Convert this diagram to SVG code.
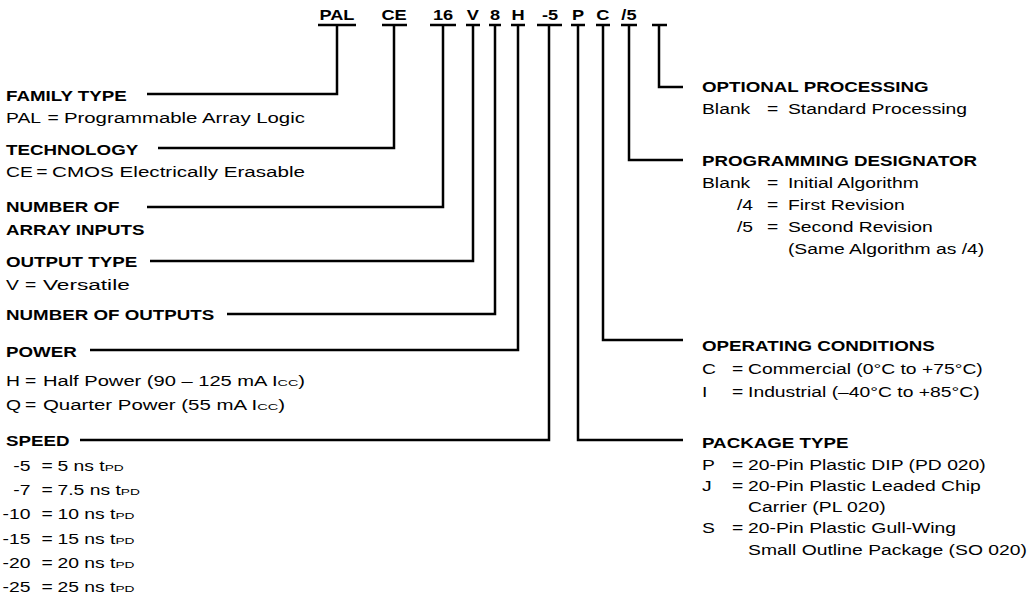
<svg xmlns="http://www.w3.org/2000/svg" width="1035" height="603" viewBox="0 0 1035 603">
<style>
text{font-family:"Liberation Sans",Arial,Helvetica,sans-serif;fill:#000}
.b{font-weight:bold;font-size:15.5px}
.r{font-size:13.8px}
.c{font-weight:bold;font-size:14px;text-anchor:middle}
.e{text-anchor:end}
.s{font-size:9.8px}
.ln{fill:none;stroke:#000;stroke-width:2.5}
</style>
<rect width="1035" height="603" fill="#fff"/>
<g id="code" class="ln">
<path d="M318 25H356M382 25H407M430 25H456M466 25H480M489 25H501M511 25H525M537 25H562M571 25H585M596 25H610M621 25H637M652 25H667"/>
</g>
<g id="code-text" transform="scale(1.3 1)">
<text class="c" x="259.2" y="20">PAL</text>
<text class="c" x="303.1" y="20">CE</text>
<text class="c" x="340.8" y="20">16</text>
<text class="c" x="363.8" y="20">V</text>
<text class="c" x="380.8" y="20">8</text>
<text class="c" x="398.5" y="20">H</text>
<text class="c" x="423.1" y="20">-5</text>
<text class="c" x="444.6" y="20">P</text>
<text class="c" x="463.8" y="20">C</text>
<text class="c" x="483.8" y="20">/5</text>
</g>
<g id="connectors" class="ln">
<path d="M337 25V94H147"/>
<path d="M394 25V148H158"/>
<path d="M443 25V207H147"/>
<path d="M473 25V261H150"/>
<path d="M495 25V314H227"/>
<path d="M518 25V350H90"/>
<path d="M549 25V440H80"/>
<path d="M578 25V440H683"/>
<path d="M603 25V340H683"/>
<path d="M629 25V160H683"/>
<path d="M659 25V87H683"/>
</g>
<g id="family" transform="translate(6 0)">
<text class="b" transform="scale(1.21 1)" y="101">FAMILY TYPE</text>
<g transform="scale(1.4 1)">
<text class="r" y="123">PAL</text><text class="r" x="29.6" y="123">=</text><text class="r" x="41.4" y="123" textLength="172.1" lengthAdjust="spacingAndGlyphs">Programmable Array Logic</text>
</g>
</g>
<g id="technology" transform="translate(6 0)">
<text class="b" transform="scale(1.21 1)" y="155">TECHNOLOGY</text>
<g transform="scale(1.4 1)">
<text class="r" y="177">CE</text><text class="r" x="21.6" y="177">=</text><text class="r" x="32.9" y="177" textLength="180.7" lengthAdjust="spacingAndGlyphs">CMOS Electrically Erasable</text>
</g>
</g>
<g id="inputs" transform="translate(6 0)">
<text class="b" transform="scale(1.21 1)" y="212">NUMBER OF</text>
<text class="b" transform="scale(1.21 1)" y="235">ARRAY INPUTS</text>
</g>
<g id="output-type" transform="translate(6 0)">
<text class="b" transform="scale(1.21 1)" y="267">OUTPUT TYPE</text>
<g transform="scale(1.4 1)">
<text class="r" y="290">V</text><text class="r" x="13.6" y="290">=</text><text class="r" x="26.4" y="290" textLength="62" lengthAdjust="spacingAndGlyphs">Versatile</text>
</g>
</g>
<g id="outputs" transform="translate(6 0)">
<text class="b" transform="scale(1.21 1)" y="320">NUMBER OF OUTPUTS</text>
</g>
<g id="power" transform="translate(6 0)">
<text class="b" transform="scale(1.21 1)" y="357">POWER</text>
<g transform="scale(1.4 1)">
<text class="r" y="386">H</text><text class="r" x="13.6" y="386">=</text><text class="r" x="26.4" y="386" textLength="187.1" lengthAdjust="spacingAndGlyphs">Half Power (90 – 125 mA I<tspan class="s">CC</tspan>)</text>
<text class="r" y="410">Q</text><text class="r" x="13.6" y="410">=</text><text class="r" x="26.4" y="410" textLength="172.9" lengthAdjust="spacingAndGlyphs">Quarter Power (55 mA I<tspan class="s">CC</tspan>)</text>
</g>
</g>
<g id="speed" transform="translate(6 0)">
<text class="b" transform="scale(1.21 1)" y="446">SPEED</text>
<g transform="scale(1.4 1)">
<text class="r e" x="17.5" y="471">-5</text><text class="r" x="25.4" y="471">=</text><text class="r" x="36.8" y="471">5 ns t<tspan class="s">PD</tspan></text>
<text class="r e" x="17.5" y="495">-7</text><text class="r" x="25.4" y="495">=</text><text class="r" x="36.8" y="495">7.5 ns t<tspan class="s">PD</tspan></text>
<text class="r e" x="17.5" y="519">-10</text><text class="r" x="25.4" y="519">=</text><text class="r" x="36.8" y="519">10 ns t<tspan class="s">PD</tspan></text>
<text class="r e" x="17.5" y="544">-15</text><text class="r" x="25.4" y="544">=</text><text class="r" x="36.8" y="544">15 ns t<tspan class="s">PD</tspan></text>
<text class="r e" x="17.5" y="568">-20</text><text class="r" x="25.4" y="568">=</text><text class="r" x="36.8" y="568">20 ns t<tspan class="s">PD</tspan></text>
<text class="r e" x="17.5" y="592">-25</text><text class="r" x="25.4" y="592">=</text><text class="r" x="36.8" y="592">25 ns t<tspan class="s">PD</tspan></text>
</g>
</g>
<g id="optional" transform="translate(702 0)">
<text class="b" transform="scale(1.21 1)" y="92">OPTIONAL PROCESSING</text>
<g transform="scale(1.4 1)">
<text class="r" y="114">Blank</text><text class="r" x="46.4" y="114">=</text><text class="r" x="61.4" y="114">Standard Processing</text>
</g>
</g>
<g id="programming" transform="translate(702 0)">
<text class="b" transform="scale(1.21 1)" y="166">PROGRAMMING DESIGNATOR</text>
<g transform="scale(1.4 1)">
<text class="r" y="188">Blank</text><text class="r" x="46.4" y="188">=</text><text class="r" x="61.4" y="188">Initial Algorithm</text>
<text class="r" x="25" y="210">/4</text><text class="r" x="46.4" y="210">=</text><text class="r" x="61.4" y="210">First Revision</text>
<text class="r" x="25" y="232">/5</text><text class="r" x="46.4" y="232">=</text><text class="r" x="61.4" y="232">Second Revision</text>
<text class="r" x="61.4" y="254">(Same Algorithm as /4)</text>
</g>
</g>
<g id="operating" transform="translate(702 0)">
<text class="b" transform="scale(1.21 1)" y="351">OPERATING CONDITIONS</text>
<g transform="scale(1.4 1)">
<text class="r" y="374">C</text><text class="r" x="21.4" y="374">=</text><text class="r" x="32.9" y="374">Commercial (0°C to +75°C)</text>
<text class="r" y="397">I</text><text class="r" x="21.4" y="397">=</text><text class="r" x="32.9" y="397">Industrial (–40°C to +85°C)</text>
</g>
</g>
<g id="package" transform="translate(702 0)">
<text class="b" transform="scale(1.21 1)" y="448">PACKAGE TYPE</text>
<g transform="scale(1.4 1)">
<text class="r" y="470">P</text><text class="r" x="21.4" y="470">=</text><text class="r" x="32.9" y="470">20-Pin Plastic DIP (PD 020)</text>
<text class="r" y="491">J</text><text class="r" x="21.4" y="491">=</text><text class="r" x="32.9" y="491">20-Pin Plastic Leaded Chip</text>
<text class="r" x="32.9" y="512">Carrier (PL 020)</text>
<text class="r" y="533">S</text><text class="r" x="21.4" y="533">=</text><text class="r" x="32.9" y="533">20-Pin Plastic Gull-Wing</text>
<text class="r" x="32.9" y="555">Small Outline Package (SO 020)</text>
</g>
</g>
</svg>
